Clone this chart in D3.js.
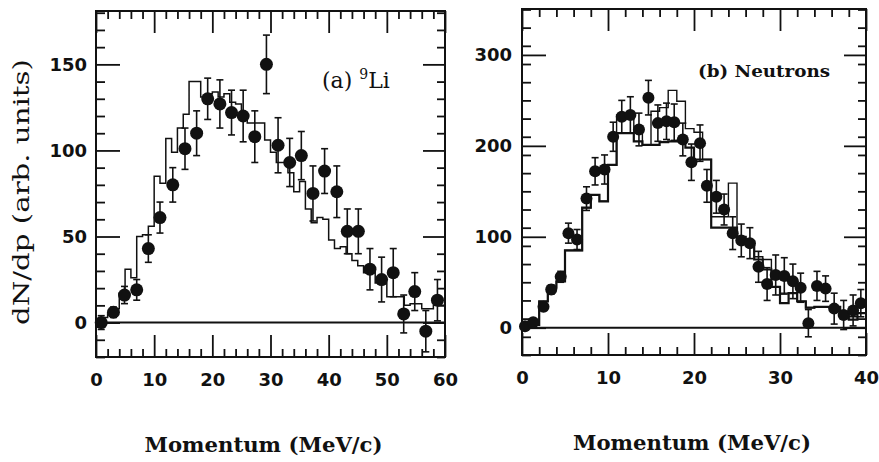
<!DOCTYPE html>
<html>
<head>
<meta charset="utf-8">
<script src="https://cdn.jsdelivr.net/npm/d3@7"></script>
<style>
body{margin:0;background:#fff}
svg{display:block}
.tick text{font-family:"DejaVu Sans";font-weight:bold;font-size:18px;fill:#111}
.tick line{stroke:#111;stroke-width:1.8}
</style>
</head>
<body>
<div id="chart"></div>
<script>
// (a) 9Li : measured points
var liMomentum = [0.9,3,4.9,7,9,11,13.2,15.3,17.3,19.2,21.3,23.3,25.3,27.3,29.3,31.3,33.3,35.3,37.3,39.3,41.4,43.2,45.1,47.1,49.1,51.1,52.9,54.8,56.7,58.7];
var liCounts   = [0,6,16,19,43,61,80,101,110,130,127,122,120,108,150,103,93,97,75,88,76,53,53,31,25,29,5,18,-5,13];
var liErrors   = [4,3,5,6,8,9,10,12,13,12,14,13,15,15,17,16,14,14,16,13,15,13,13,12,13,14,11,11,12,12];
// (a) calculation, 1 MeV/c bins from 0
var liHist = [1,3,5,8,17,31,26,50,51,56,85,81,107,99,113,121,140,140,131,133,134,131,133,128,127,120,116,116,116,106,99,93,93,87,76,82,66,58,61,60,48,43,44,40,36,33,29,29,23,23,15,15,15,10,11,11,8,8,10,10];
var liXTicks = [0,10,20,30,40,50,60];
var liYTicks = [0,50,100,150];

// (b) neutrons : measured points
var nMomentum = [0.35,1.3,2.5,3.4,4.5,5.4,6.4,7.5,8.5,9.6,10.6,11.6,12.6,13.6,14.7,15.8,16.8,17.7,18.7,19.7,20.7,21.5,22.6,23.5,24.5,25.5,26.5,27.5,28.5,29.5,30.5,31.5,32.4,33.3,34.3,35.3,36.3,37.4,38.5,39.4];
var nCounts   = [1.5,6,23,42,56,104,97,142,172,174,210,232,234,218,253,225,227,226,207,182,203,156,144,130,104,96,93,67,48,58,57,51,44,5,46,43,21,14,19,27];
var nErrors   = [3,3,4,5,6,11,11,13,15,16,16,18,20,18,19,20,20,20,18,20,20,18,18,17,18,18,17,17,18,22,20,19,16,15,16,14,17,16,17,15];
// (b) two calculations, 1 MeV/c bins from 0
var nHistThick = [2,3,29,44,51,85,85,132,146,139,179,214,214,205,201,201,204,205,205,198,185,185,110,110,110,100,95,75,64,45,27,38,29,22,23,23,23,14,9,16];
var nHistThin  = [2,3,29,44,51,85,85,132,146,139,179,234,234,215,201,238,242,261,249,219,215,185,122,122,159,100,95,78,75,45,38,38,29,22,23,23,23,14,12,16];
var nXTicks = [0,10,20,30,40];
var nYTicks = [0,100,200,300];

var width = 879, height = 462;
var ink = '#111';

var svg = d3.select('#chart').append('svg')
                .attr('width', width)
                .attr('height', height);

svg.append('rect').attr('width', width).attr('height', height).attr('fill', '#fff');

function minorTicks(lo, hi, step, majors){
    return d3.range(lo, hi + step/2, step).filter(function(v){ return majors.indexOf(v) < 0; });
}

function drawPanel(p){
    var x = d3.scaleLinear().domain(p.xDomain).range([p.left, p.right]);
    var y = d3.scaleLinear().domain(p.yDomain).range([p.bottom, p.top]);
    var g = svg.append('g');

    var xMinor = minorTicks(p.xDomain[0], p.xDomain[1], p.xMinorStep, p.xTicks);
    var yMinor = minorTicks(p.yDomain[0], p.yDomain[1], p.yMinorStep, p.yTicks);

    // ticks point inward on all four sides
    var axes = [
        [d3.axisBottom(x).tickValues(p.xTicks).tickSize(-22).tickPadding(16), 'translate(0,' + p.bottom + ')', true],
        [d3.axisBottom(x).tickValues(xMinor).tickSize(-8).tickFormat(''), 'translate(0,' + p.bottom + ')', false],
        [d3.axisTop(x).tickValues(p.xTicks).tickSize(-22).tickFormat(''), 'translate(0,' + p.top + ')', false],
        [d3.axisTop(x).tickValues(xMinor).tickSize(-8).tickFormat(''), 'translate(0,' + p.top + ')', false],
        [d3.axisLeft(y).tickValues(p.yTicks).tickSize(-24).tickPadding(p.yPad), 'translate(' + p.left + ',0)', true],
        [d3.axisLeft(y).tickValues(yMinor).tickSize(-9).tickFormat(''), 'translate(' + p.left + ',0)', false],
        [d3.axisRight(y).tickValues(p.yTicks).tickSize(-22).tickFormat(''), 'translate(' + p.right + ',0)', false],
        [d3.axisRight(y).tickValues(yMinor).tickSize(-8).tickFormat(''), 'translate(' + p.right + ',0)', false]
    ];
    axes.forEach(function(a){
        var ax = g.append('g').attr('transform', a[1]).call(a[0]);
        ax.select('.domain').remove();
        if (!a[2]) ax.selectAll('text').remove();
    });

    // zero line
    g.append('line')
        .attr('x1', p.left).attr('x2', p.right)
        .attr('y1', y(0)).attr('y2', y(0))
        .attr('stroke', ink).attr('stroke-width', 2);

    // histograms
    var step = d3.line()
                .x(function(d){ return x(d[0]); })
                .y(function(d){ return y(d[1]); })
                .curve(d3.curveStepAfter);
    p.hists.forEach(function(h){
        var pts = h.values.map(function(v, i){ return [p.xDomain[0] + i * h.bin, v]; });
        pts.push([p.xDomain[0] + h.values.length * h.bin, h.values[h.values.length - 1]]);
        g.append('path')
            .attr('d', step(pts))
            .attr('fill', 'none')
            .attr('stroke', ink)
            .attr('stroke-width', h.width)
            .attr('stroke-linejoin', 'miter');
    });

    // data with error bars
    var pts = p.mom.map(function(m, i){ return {m: m, v: p.counts[i], e: p.errors[i]}; });
    var eb = g.append('g').attr('stroke', ink).attr('stroke-width', 1.6);
    eb.selectAll('line.bar').data(pts).enter().append('line')
        .attr('x1', function(d){ return x(d.m); }).attr('x2', function(d){ return x(d.m); })
        .attr('y1', function(d){ return y(d.v - d.e); }).attr('y2', function(d){ return y(d.v + d.e); });
    [-1, 1].forEach(function(s){
        eb.selectAll('line.cap' + s).data(pts).enter().append('line')
            .attr('x1', function(d){ return x(d.m) - 3.5; }).attr('x2', function(d){ return x(d.m) + 3.5; })
            .attr('y1', function(d){ return y(d.v + s * d.e); }).attr('y2', function(d){ return y(d.v + s * d.e); });
    });
    g.selectAll('circle').data(pts).enter().append('circle')
        .attr('cx', function(d){ return x(d.m); })
        .attr('cy', function(d){ return y(d.v); })
        .attr('r', p.r)
        .attr('fill', ink);

    // frame
    g.append('rect')
        .attr('x', p.left).attr('y', p.top)
        .attr('width', p.right - p.left).attr('height', p.bottom - p.top)
        .attr('fill', 'none').attr('stroke', ink).attr('stroke-width', 2);

    // x title
    g.append('text')
        .attr('x', (p.left + p.right) / 2 + p.titleShift).attr('y', p.titleY)
        .attr('text-anchor', 'middle')
        .attr('font-family', 'DejaVu Serif').attr('font-weight', 'bold').attr('font-size', 20)
        .attr('textLength', 238).attr('lengthAdjust', 'spacingAndGlyphs')
        .attr('fill', ink)
        .text('Momentum (MeV/c)');
    return {x: x, y: y, g: g};
}

var a = drawPanel({
    left: 96, right: 445, top: 11, bottom: 357,
    xDomain: [0, 60], yDomain: [-20, 181],
    xTicks: liXTicks, yTicks: liYTicks, xMinorStep: 2, yMinorStep: 10, yPad: 9,
    hists: [{values: liHist, bin: 1, width: 1.5}],
    mom: liMomentum, counts: liCounts, errors: liErrors, r: 6.5,
    titleY: 452, titleShift: -7
});

var b = drawPanel({
    left: 522, right: 866, top: 9, bottom: 355,
    xDomain: [0, 40], yDomain: [-30, 350.5],
    xTicks: nXTicks, yTicks: nYTicks, xMinorStep: 2, yMinorStep: 20, yPad: 10,
    hists: [{values: nHistThin, bin: 1, width: 1.4}, {values: nHistThick, bin: 1, width: 2.2}],
    mom: nMomentum, counts: nCounts, errors: nErrors, r: 6,
    titleY: 450, titleShift: -2
});

// panel labels
var la = svg.append('text')
    .attr('x', 322).attr('y', 88)
    .attr('font-family', 'DejaVu Serif').attr('font-size', 22).attr('fill', ink);
la.append('tspan').text('(a) ');
la.append('tspan').attr('font-size', 14).attr('dy', -9).text('9');
la.append('tspan').attr('dy', 9).text('Li');

svg.append('text')
    .attr('x', 698).attr('y', 77)
    .attr('font-family', 'DejaVu Serif').attr('font-weight', 'bold').attr('font-size', 16)
    .attr('textLength', 132).attr('lengthAdjust', 'spacingAndGlyphs')
    .attr('fill', ink)
    .text('(b) Neutrons');

// y title
svg.append('text')
    .attr('transform', 'translate(29,192) rotate(-90)')
    .attr('text-anchor', 'middle')
    .attr('font-family', 'DejaVu Serif').attr('font-size', 23)
    .attr('textLength', 266).attr('lengthAdjust', 'spacingAndGlyphs')
    .attr('fill', ink)
    .text('dN/dp (arb. units)');
</script>
</body>
</html>
